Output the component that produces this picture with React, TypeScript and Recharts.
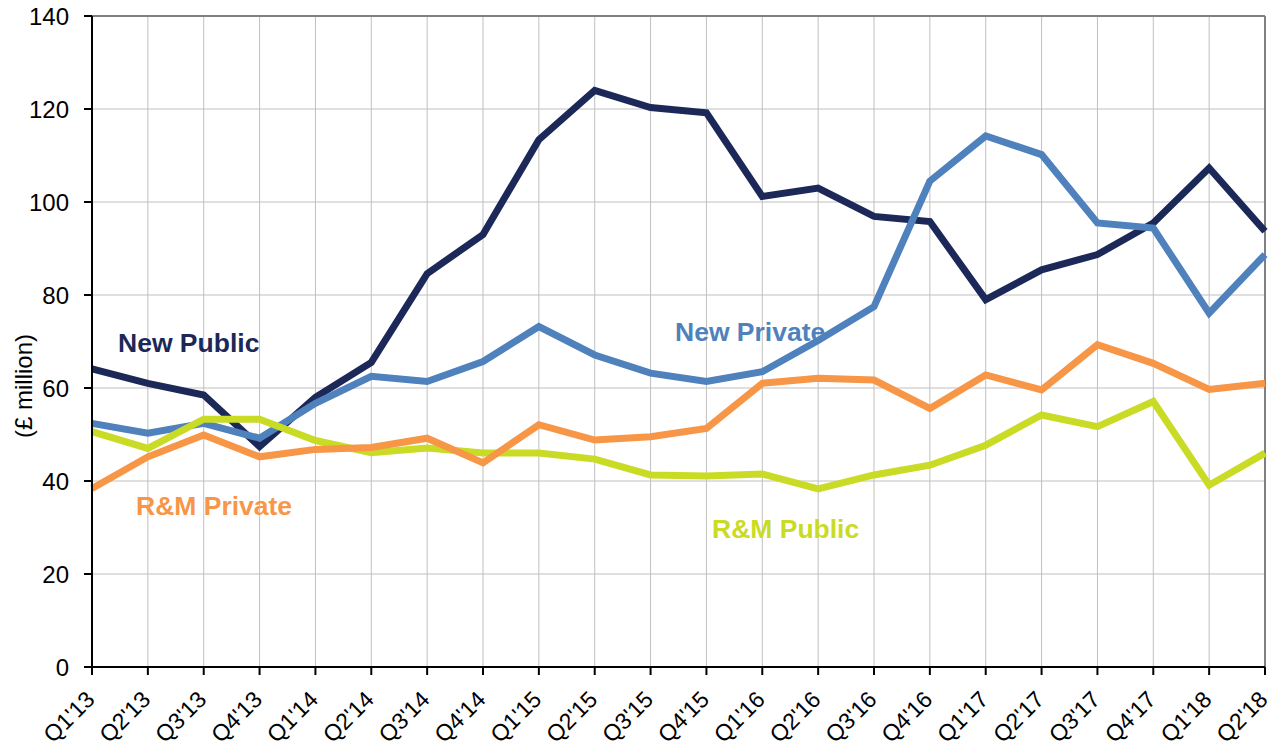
import React from "react";
import {
  LineChart,
  Line,
  CartesianGrid,
  XAxis,
  YAxis,
  ReferenceLine,
} from "recharts";

// quarters shown on the x axis
const quarters = [
  "Q1'13", "Q2'13", "Q3'13", "Q4'13",
  "Q1'14", "Q2'14", "Q3'14", "Q4'14",
  "Q1'15", "Q2'15", "Q3'15", "Q4'15",
  "Q1'16", "Q2'16", "Q3'16", "Q4'16",
  "Q1'17", "Q2'17", "Q3'17", "Q4'17",
  "Q1'18", "Q2'18",
];

// £ million
const newPublic = [
  64.1, 61.0, 58.5, 47.4, 58.0, 65.5, 84.6, 93.0, 113.4, 124.0, 120.3,
  119.2, 101.2, 103.0, 96.9, 95.8, 79.0, 85.4, 88.7, 95.5, 107.3, 93.7,
];
const newPrivate = [
  52.4, 50.3, 52.4, 49.2, 56.7, 62.5, 61.4, 65.7, 73.2, 67.1, 63.2,
  61.4, 63.5, 70.2, 77.5, 104.5, 114.2, 110.2, 95.5, 94.4, 76.1, 88.7,
];
const rmPrivate = [
  38.4, 45.2, 49.9, 45.2, 46.8, 47.2, 49.2, 43.9, 52.1, 48.8, 49.5,
  51.3, 61.0, 62.1, 61.7, 55.6, 62.8, 59.6, 69.3, 65.3, 59.7, 61.0,
];
const rmPublic = [
  50.6, 47.0, 53.3, 53.3, 48.7, 46.1, 47.1, 46.0, 46.0, 44.7, 41.3,
  41.1, 41.5, 38.3, 41.3, 43.4, 47.7, 54.2, 51.7, 57.1, 39.1, 46.0,
];

const yTicks = [0, 20, 40, 60, 80, 100, 120, 140];

const font = '"Liberation Sans", Arial, Helvetica, sans-serif';

const data = quarters.map((q, i) => ({
  name: q,
  newPublic: newPublic[i],
  newPrivate: newPrivate[i],
  rmPrivate: rmPrivate[i],
  rmPublic: rmPublic[i],
}));

const XTick = (props: any) => {
  const { x, y, payload } = props;
  const ax = x + 4;
  const ay = y + 26;
  return (
    <text
      x={ax}
      y={ay}
      transform={`rotate(-45 ${ax} ${ay})`}
      textAnchor="end"
      fontSize={23}
      fontFamily={font}
      fill="#000"
    >
      {payload.value}
    </text>
  );
};

export default function App() {
  return (
    <div style={{ position: "absolute", left: 0, top: 0, width: 1284, height: 751 }}>
      <LineChart
        width={1284}
        height={751}
        data={data}
        margin={{ top: 16, right: 19, bottom: 0, left: 0 }}
      >
        <CartesianGrid stroke="#c0c0c0" strokeWidth={1} />
        <XAxis
          dataKey="name"
          height={84}
          interval={0}
          tickSize={8}
          tickMargin={0}
          tick={<XTick />}
          axisLine={{ stroke: "#000", strokeWidth: 2 }}
          tickLine={{ stroke: "#000", strokeWidth: 2 }}
        />
        <YAxis
          width={92}
          domain={[0, 140]}
          ticks={yTicks}
          interval={0}
          tickSize={8}
          tickMargin={15}
          tick={{ fontSize: 24, fill: "#000", fontFamily: font }}
          axisLine={{ stroke: "#000", strokeWidth: 2 }}
          tickLine={{ stroke: "#000", strokeWidth: 2 }}
        />
        <ReferenceLine y={140} stroke="#808080" strokeWidth={2} />
        <ReferenceLine x="Q2'18" stroke="#808080" strokeWidth={2} />
        <Line
          dataKey="newPublic"
          stroke="#1b2858"
          strokeWidth={7}
          dot={false}
          isAnimationActive={false}
        />
        <Line
          dataKey="newPrivate"
          stroke="#4f81bd"
          strokeWidth={7}
          dot={false}
          isAnimationActive={false}
        />
        <Line
          dataKey="rmPublic"
          stroke="#cadb25"
          strokeWidth={7}
          dot={false}
          isAnimationActive={false}
        />
        <Line
          dataKey="rmPrivate"
          stroke="#f79646"
          strokeWidth={7}
          dot={false}
          isAnimationActive={false}
        />
      </LineChart>
      <svg
        width={1284}
        height={751}
        style={{ position: "absolute", left: 0, top: 0, pointerEvents: "none" }}
      >
        <text
          x={23}
          y={386}
          transform="rotate(-90 23 386)"
          textAnchor="middle"
          dominantBaseline="central"
          fontSize={24}
          fontFamily={font}
          fill="#000"
        >
          (£ million)
        </text>
        <g fontFamily={font} fontWeight="bold" fontSize={26.5}>
          <text x={118} y={352} fill="#1b2858">New Public</text>
          <text x={675} y={341} fill="#4f81bd">New Private</text>
          <text x={136} y={515} fill="#f79646">R&amp;M Private</text>
          <text x={712} y={538} fill="#cadb25">R&amp;M Public</text>
        </g>
      </svg>
    </div>
  );
}
